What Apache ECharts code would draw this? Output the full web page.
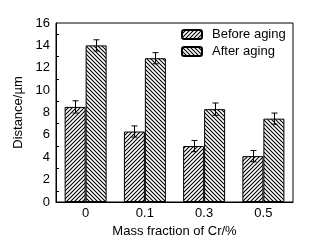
<!DOCTYPE html>
<html>
<head>
<meta charset="utf-8">
<script src="https://cdn.jsdelivr.net/npm/echarts@6/dist/echarts.min.js"></script>
<style>
html, body { margin: 0; padding: 0; background: #fff; }
#chart { width: 327px; height: 246px; }
</style>
</head>
<body>
<div id="chart"></div>
<script>
// values
const categories = ['0', '0.1', '0.3', '0.5']
const beforeAging = [8.5, 6.3, 5.0, 4.1]
const afterAging = [14.0, 12.85, 8.3, 7.45]
const beforeErr = [0.55, 0.5, 0.5, 0.5]
const afterErr = [0.5, 0.5, 0.55, 0.5]

const BAR_W = 21

function hatch (dir, size) {
  const c = document.createElement('canvas')
  c.width = size
  c.height = size
  const ctx = c.getContext('2d')
  ctx.fillStyle = '#fff'
  ctx.fillRect(0, 0, size, size)
  ctx.strokeStyle = '#000'
  ctx.lineWidth = 1.1
  ctx.beginPath()
  if (dir === 'up') {
    ctx.moveTo(-1, size + 1); ctx.lineTo(size + 1, -1)
    ctx.moveTo(-1, 1); ctx.lineTo(1, -1)
    ctx.moveTo(size - 1, size + 1); ctx.lineTo(size + 1, size - 1)
  } else {
    ctx.moveTo(-1, -1); ctx.lineTo(size + 1, size + 1)
    ctx.moveTo(-1, size - 1); ctx.lineTo(1, size + 1)
    ctx.moveTo(size - 1, -1); ctx.lineTo(size + 1, 1)
  }
  ctx.stroke()
  return c
}

function errorSeries (vals, errs, shift) {
  return {
    type: 'custom',
    data: vals.map((v, i) => [i, v, errs[i]]),
    z: 5,
    renderItem (params, api) {
      const i = api.value(0)
      const v = api.value(1)
      const e = api.value(2)
      const hi = api.coord([i, v + e])
      const lo = api.coord([i, v - e])
      const x = Math.round(hi[0] + shift) + 0.5
      const cap = 3
      const st = { stroke: '#000', lineWidth: 1 }
      return {
        type: 'group',
        children: [
          { type: 'line', shape: { x1: x, y1: hi[1], x2: x, y2: lo[1] }, style: st },
          { type: 'line', shape: { x1: x - cap, y1: hi[1], x2: x + cap, y2: hi[1] }, style: st },
          { type: 'line', shape: { x1: x - cap, y1: lo[1], x2: x + cap, y2: lo[1] }, style: st }
        ]
      }
    }
  }
}

const chart = echarts.init(document.getElementById('chart'))
const font = 'Liberation Sans, Arial, sans-serif'

chart.setOption({
  animation: false,
  textStyle: { fontFamily: font },
  grid: {
    left: 56, right: 34, top: 23, bottom: 44,
    show: true, borderColor: '#000', borderWidth: 1
  },
  legend: {
    orient: 'vertical',
    left: 176,
    top: 23,
    itemWidth: 20,
    itemHeight: 9,
    itemGap: 4,
    textStyle: { fontSize: 13, lineHeight: 13, color: '#000', fontFamily: font, padding: [0, 0, 0, 5] },
    data: ['Before aging', 'After aging']
  },
  xAxis: {
    type: 'category',
    data: categories,
    axisLine: { lineStyle: { color: '#000', width: 1 } },
    axisTick: { show: false },
    axisLabel: { fontSize: 13, color: '#000', margin: 5 },
    name: 'Mass fraction of Cr/%',
    nameLocation: 'middle',
    nameGap: 21,
    nameTextStyle: { fontSize: 13, color: '#000' }
  },
  yAxis: {
    type: 'value',
    min: 0, max: 16, interval: 2,
    axisLine: { show: true, lineStyle: { color: '#000', width: 1 } },
    axisTick: { inside: true, length: 5, lineStyle: { color: '#000' } },
    minorTick: { show: true, splitNumber: 2, length: 3, lineStyle: { color: '#000' } },
    splitLine: { show: false },
    axisLabel: { fontSize: 13, color: '#000', margin: 6 },
    name: 'Distance/µm',
    nameLocation: 'middle',
    nameGap: 26,
    nameTextStyle: { fontSize: 13, color: '#000' }
  },
  series: [
    {
      name: 'Before aging',
      type: 'bar',
      data: beforeAging,
      barWidth: BAR_W,
      barGap: '0%',
      itemStyle: { color: { image: hatch('up', 4), repeat: 'repeat' }, borderColor: '#000', borderWidth: 1 }
    },
    {
      name: 'After aging',
      type: 'bar',
      data: afterAging,
      barWidth: BAR_W,
      barGap: '0%',
      itemStyle: { color: { image: hatch('down', 4), repeat: 'repeat' }, borderColor: '#000', borderWidth: 1 }
    },
    errorSeries(beforeAging, beforeErr, -BAR_W / 2),
    errorSeries(afterAging, afterErr, BAR_W / 2)
  ]
})
</script>
</body>
</html>
